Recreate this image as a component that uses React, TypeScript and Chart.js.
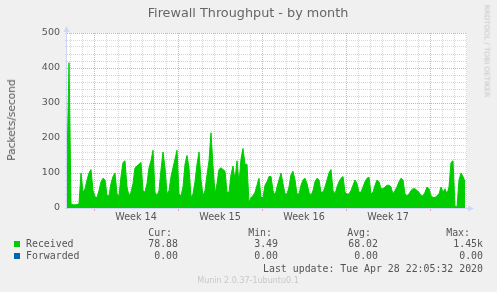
import React, { useEffect, useRef } from "react";
import { Chart, registerables } from "chart.js";

Chart.register(...registerables);

// ---- data ----
const TITLE = "Firewall Throughput - by month";
const Y_TITLE = "Packets/second";
const WATERMARK = "RRDTOOL / TOBI OETIKER";
const SAMPLES_PER_DAY = 6; // one sample every 4 hours
const START_DAY = -2.25; // days relative to the start of week 14
const END_DAY = 31.083;
const FIRST_WEEK = 14;
const WEEK_COUNT = 4;
const Y_MAX = 500;
const Y_STEP = 20;
const Y_LABEL_STEP = 100;

const received = [
  120, 415, 12, 9, 9, 10, 12, 100, 45, 55,
  80, 100, 110, 50, 32, 30, 50, 75, 85, 80,
  35, 35, 70, 90, 100, 40, 35, 90, 130, 135,
  60, 35, 45, 70, 115, 120, 125, 130, 50, 45,
  70, 115, 135, 165, 45, 35, 50, 110, 160, 115,
  40, 50, 90, 115, 140, 165, 40, 35, 60, 125,
  150, 115, 30, 40, 75, 125, 160, 80, 35, 50,
  95, 135, 215, 120, 40, 70, 110, 115, 110, 105,
  45, 45, 95, 120, 80, 135, 70, 140, 170, 125,
  125, 15, 30, 35, 45, 65, 85, 30, 30, 65,
  75, 90, 90, 50, 35, 60, 80, 100, 70, 40,
  40, 60, 95, 105, 80, 40, 40, 65, 80, 85,
  70, 45, 35, 50, 75, 85, 80, 45, 45, 60,
  80, 100, 110, 50, 40, 60, 75, 85, 90, 45,
  40, 40, 50, 65, 80, 70, 45, 45, 60, 75,
  85, 88, 40, 45, 65, 80, 75, 55, 55, 60,
  65, 65, 60, 40, 50, 60, 75, 85, 80, 40,
  35, 40, 50, 55, 55, 50, 45, 35, 35, 45,
  60, 55, 35, 30, 30, 35, 40, 60, 45, 55,
  40, 60, 130, 135, 5, 3, 80, 100, 90, 75,
];

const statHeaders = ["Cur:", "Min:", "Avg:", "Max:"];
const seriesNames = ["Received", "Forwarded"];
const seriesColors = ["#00cc00", "#0066b3"];
const receivedStats = ["78.88", "3.49", "68.02", "1.45k"];
const forwardedStats = ["0.00", "0.00", "0.00", "0.00"];
const LAST_UPDATE = "Last update: Tue Apr 28 22:05:32 2020";
const VERSION = "Munin 2.0.37-1ubuntu0.1";

// ---- styling ----
const AXIS_COLOR = "#cfd6f8";
const MAJOR_GRID = "#f2a6a6";
const MINOR_GRID = "#d6d6d6";
const FONT_COLOR = "#555555";
const SANS = "'DejaVu Sans', sans-serif";
const MONO = "'DejaVu Sans Mono', monospace";

const dayTicks: number[] = [];
for (let d = Math.ceil(START_DAY); d <= Math.floor(END_DAY); d++) dayTicks.push(d);
const weekMids: number[] = [];
for (let w = 0; w < WEEK_COUNT; w++) weekMids.push(w * 7 + 3.5);
const xTickValues = [...dayTicks, ...weekMids].sort((a, b) => a - b);

const decorPlugin = {
  id: "decor",
  beforeDraw(chart: any) {
    const { ctx, chartArea: a } = chart;
    ctx.save();
    ctx.fillStyle = "#ffffff";
    ctx.fillRect(a.left, a.top, a.right - a.left, a.bottom - a.top);
    ctx.restore();
  },
  afterDraw(chart: any) {
    const { ctx, chartArea: a } = chart;
    ctx.save();
    ctx.strokeStyle = AXIS_COLOR;
    ctx.fillStyle = AXIS_COLOR;
    ctx.lineWidth = 1;
    ctx.beginPath();
    ctx.moveTo(a.left - 0.5, a.bottom);
    ctx.lineTo(a.left - 0.5, a.top - 4);
    ctx.moveTo(a.left, a.bottom + 0.5);
    ctx.lineTo(a.right + 3, a.bottom + 0.5);
    ctx.stroke();
    ctx.beginPath();
    ctx.moveTo(a.left - 3.5, a.top - 1);
    ctx.lineTo(a.left + 2.5, a.top - 1);
    ctx.lineTo(a.left - 0.5, a.top - 7);
    ctx.closePath();
    ctx.fill();
    ctx.beginPath();
    ctx.moveTo(a.right + 1, a.bottom - 2.5);
    ctx.lineTo(a.right + 1, a.bottom + 3.5);
    ctx.lineTo(a.right + 7, a.bottom + 0.5);
    ctx.closePath();
    ctx.fill();
    ctx.restore();
  },
};

function ChartCanvas() {
  const ref = useRef<HTMLCanvasElement | null>(null);
  useEffect(() => {
    if (!ref.current) return;
    Chart.defaults.font.family = SANS;
    const points = received.map((v, i) => ({ x: START_DAY + i / SAMPLES_PER_DAY, y: v }));
    const chart = new Chart(ref.current, {
      type: "line",
      data: {
        datasets: [
          {
            label: seriesNames[0],
            data: points,
            borderColor: seriesColors[0],
            backgroundColor: seriesColors[0],
            borderWidth: 1,
            fill: "origin",
            pointRadius: 0,
            tension: 0,
          },
        ],
      },
      options: {
        animation: false,
        responsive: false,
        devicePixelRatio: 1,
        events: [],
        layout: { padding: { top: 33, right: 30, bottom: 64, left: 0 } },
        plugins: { legend: { display: false }, tooltip: { enabled: false }, title: { display: false } },
        scales: {
          x: {
            type: "linear",
            min: START_DAY,
            max: END_DAY,
            afterBuildTicks: (scale: any) => {
              scale.ticks = xTickValues.map((value) => ({ value }));
            },
            afterFit: (scale: any) => {
              scale.height = 20;
            },
            border: { display: false, dash: [1, 1] },
            grid: {
              drawOnChartArea: true,
              drawTicks: true,
              tickLength: 3,
              lineWidth: 1,
              color: (ctx: any) => {
                const v = ctx.tick ? ctx.tick.value : NaN;
                if (!Number.isInteger(v)) return "rgba(0,0,0,0)";
                return v % 7 === 0 ? MAJOR_GRID : MINOR_GRID;
              },
              tickColor: (ctx: any) => {
                const v = ctx.tick ? ctx.tick.value : NaN;
                return Number.isInteger(v) && v % 7 === 0 ? MAJOR_GRID : "rgba(0,0,0,0)";
              },
            },
            ticks: {
              autoSkip: false,
              maxRotation: 0,
              minRotation: 0,
              padding: 1,
              color: FONT_COLOR,
              font: { size: 9.6, family: SANS },
              callback: (v: any) => {
                const w = (Number(v) - 3.5) / 7;
                return Number.isInteger(w) ? `Week ${FIRST_WEEK + w}` : "";
              },
            },
          },
          y: {
            type: "linear",
            min: 0,
            max: Y_MAX,
            afterFit: (scale: any) => {
              scale.width = 67;
            },
            border: { display: false, dash: [1, 1] },
            grid: {
              drawTicks: true,
              tickLength: 2,
              lineWidth: 1,
              color: (ctx: any) => {
                const v = ctx.tick ? ctx.tick.value : NaN;
                if (v === 0) return "rgba(0,0,0,0)";
                return v % Y_LABEL_STEP === 0 ? MAJOR_GRID : MINOR_GRID;
              },
              tickColor: "#d8d8d8",
            },
            ticks: {
              stepSize: Y_STEP,
              autoSkip: false,
              padding: 5,
              color: FONT_COLOR,
              font: { size: 9.5, family: SANS },
              callback: (v: any) => (Number(v) % Y_LABEL_STEP === 0 ? String(v) : ""),
            },
          },
        },
      },
      plugins: [decorPlugin],
    });
    return () => chart.destroy();
  }, []);
  return <canvas ref={ref} width={497} height={292} style={{ position: "absolute", left: 0, top: 0 }} />;
}

function Txt(props: {
  x: number;
  y: number;
  align: "left" | "right" | "center";
  text: string;
  size: number;
  family: string;
  color?: string;
}) {
  const lh = 12;
  const style: any = {
    position: "absolute",
    top: props.y - lh / 2,
    lineHeight: `${lh}px`,
    fontSize: `${props.size}px`,
    fontFamily: props.family,
    color: props.color || FONT_COLOR,
    whiteSpace: "pre",
  };
  if (props.align === "left") style.left = props.x;
  else if (props.align === "right") style.right = 497 - props.x;
  else {
    style.left = props.x;
    style.transform = "translateX(-50%)";
  }
  return <div style={style}>{props.text}</div>;
}

export default function App() {
  const statRight = [172, 272, 371, 470];
  const valueRight = [178, 278, 378, 483];
  const rowsY = [244, 256];
  const rowStats = [receivedStats, forwardedStats];
  return (
    <div
      style={{
        position: "fixed",
        left: 0,
        top: 0,
        width: 497,
        height: 292,
        background: "#f0f0f0",
        overflow: "hidden",
      }}
    >
      <ChartCanvas />
      <Txt x={248} y={13} align="center" text={TITLE} size={12.8} family={SANS} color="#666" />
      <div
        style={{
          position: "absolute",
          left: 10.5,
          top: 119.5,
          transform: "translate(-50%, -50%) rotate(-90deg)",
          fontFamily: SANS,
          fontSize: "10.6px",
          lineHeight: "12px",
          color: FONT_COLOR,
          whiteSpace: "nowrap",
        }}
      >
        {Y_TITLE}
      </div>
      <div
        style={{
          position: "absolute",
          left: 487,
          top: 51,
          transform: "translate(-50%, -50%) rotate(90deg)",
          fontFamily: SANS,
          fontSize: "7.2px",
          lineHeight: "9px",
          color: "#c4c4c4",
          whiteSpace: "nowrap",
        }}
      >
        {WATERMARK}
      </div>
      {statHeaders.map((h, i) => (
        <Txt key={h} x={statRight[i]} y={233} align="right" text={h} size={9.9} family={MONO} />
      ))}
      {seriesNames.map((name, r) => (
        <React.Fragment key={name}>
          <div
            style={{
              position: "absolute",
              left: 14,
              top: rowsY[r] - 3,
              width: 6,
              height: 6,
              background: seriesColors[r],
            }}
          />
          <Txt x={26} y={rowsY[r]} align="left" text={name} size={9.9} family={MONO} />
          {rowStats[r].map((s, i) => (
            <Txt key={i} x={valueRight[i]} y={rowsY[r]} align="right" text={s} size={9.9} family={MONO} />
          ))}
        </React.Fragment>
      ))}
      <Txt x={483} y={269} align="right" text={LAST_UPDATE} size={9.9} family={MONO} />
      <Txt x={248} y={281} align="center" text={VERSION} size={8} family={SANS} color="#c8c8c8" />
    </div>
  );
}
